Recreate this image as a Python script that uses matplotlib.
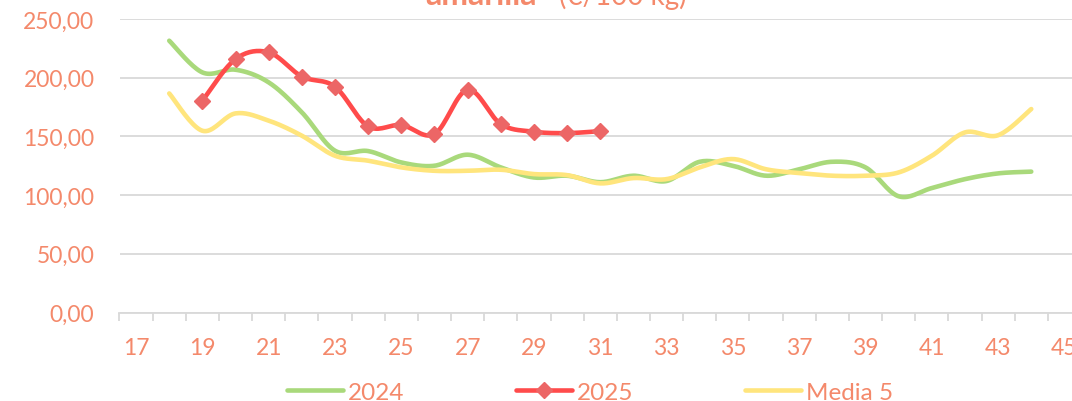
import numpy as np
import matplotlib
matplotlib.use("Agg")
import matplotlib.pyplot as plt

plt.rcParams['font.family'] = ['Lato', 'DejaVu Sans']

TXT = "#F4896B"
GRID = "#D9D9D9"

weeks = list(range(18, 45))
y2024 = [231.5, 204.5, 206.8, 196.0, 170.5, 137.8, 137.5, 127.8, 125.0, 134.4,
         123.6, 115.0, 116.5, 111.0, 116.5, 112.0, 128.4, 125.0, 116.5, 122.0,
         128.4, 123.6, 99.0, 106.0, 113.6, 118.5, 120.0]
weeks25 = list(range(19, 32))
y2025 = [180.4, 215.9, 221.6, 201.0, 192.3, 158.5, 159.7, 152.0, 189.8, 160.5,
         154.0, 152.8, 154.5]
media5 = [186.6, 154.8, 169.6, 163.4, 150.6, 133.5, 129.3, 123.6, 120.7, 120.7,
          121.6, 117.9, 117.0, 110.0, 114.5, 113.6, 123.6, 130.7, 122.0, 118.8,
          116.5, 116.5, 119.3, 133.5, 153.4, 151.0, 173.3]
xticks = list(range(17, 46, 2))


def smooth(x, y, n=20):
    # excel-like smoothed line (catmull-rom through the points)
    x = np.asarray(x, float)
    y = np.asarray(y, float)
    xs, ys = [], []
    for i in range(len(x) - 1):
        x0, y0 = (x[i - 1], y[i - 1]) if i > 0 else (x[i], y[i])
        x3, y3 = (x[i + 2], y[i + 2]) if i + 2 < len(x) else (x[i + 1], y[i + 1])
        x1, y1, x2, y2 = x[i], y[i], x[i + 1], y[i + 1]
        c1 = (x1 + (x2 - x0) / 6, y1 + (y2 - y0) / 6)
        c2 = (x2 - (x3 - x1) / 6, y2 - (y3 - y1) / 6)
        t = np.linspace(0, 1, n)
        bx = (1-t)**3*x1 + 3*(1-t)**2*t*c1[0] + 3*(1-t)*t**2*c2[0] + t**3*x2
        by = (1-t)**3*y1 + 3*(1-t)**2*t*c1[1] + 3*(1-t)*t**2*c2[1] + t**3*y2
        xs.extend(bx)
        ys.extend(by)
    return np.array(xs), np.array(ys)


W, H = 1072, 402
fig = plt.figure(figsize=(W / 100, H / 100), dpi=100)
left, right, top, bottom = 119.5, 1081, 20, 313.5
ax = fig.add_axes([left / W, 1 - bottom / H, (right - left) / W, (bottom - top) / H])

sx, sy = smooth(weeks, y2024)
ax.plot(sx, sy, color="#A9D97B", lw=3.3, solid_capstyle="round", label="2024")
sx, sy = smooth(weeks25, y2025)
ax.plot(sx, sy, color="#FF4B4B", lw=3.3, solid_capstyle="round")
ax.plot(weeks25, y2025, ls="none", marker="D", ms=8.5, color="#EC6666")
sx, sy = smooth(weeks, media5)
ax.plot(sx, sy, color="#FFE57D", lw=3.3, solid_capstyle="round", label="Media 5")

ax.set_xlim(16.5, 45.5)
ax.set_ylim(0, 250)
ax.set_yticks(np.arange(0, 251, 50))
ax.set_yticklabels([f"{v:.2f}".replace(".", ",") for v in np.arange(0, 251, 50)])
ax.grid(axis="y", color=GRID, lw=1.3)
ax.set_axisbelow(True)
for s in ["top", "right", "left"]:
    ax.spines[s].set_visible(False)
ax.spines["bottom"].set_color(GRID)
ax.spines["bottom"].set_linewidth(1.3)
ax.tick_params(axis="y", length=0, pad=18, labelsize=16.5, labelcolor=TXT)
ax.set_xticks(xticks)
ax.set_xticklabels([str(v) for v in xticks])
ax.tick_params(axis="x", length=0, pad=18, labelsize=16.5, labelcolor=TXT)
ax.set_xticks(np.arange(16.5, 46, 1), minor=True)
ax.tick_params(axis="x", which="minor", length=6, width=1.3, color=GRID)

# title, top part falls outside the picture
fig.text(425 / W, 1 - 5 / H, "amarilla", color=TXT, fontsize=23,
         fontweight="bold", va="baseline", ha="left")
fig.text(559 / W, 1 - 5 / H, "(€/100 kg)", color=TXT, fontsize=20,
         va="baseline", ha="left")

h1 = plt.Line2D([], [], color="#A9D97B", lw=3.3, solid_capstyle="round")
h2 = plt.Line2D([], [], color="#FF4B4B", lw=3.3, marker="D", ms=8.5,
                mfc="#EC6666", mec="#EC6666", solid_capstyle="round")
h3 = plt.Line2D([], [], color="#FFE57D", lw=3.3, solid_capstyle="round")
leg = fig.legend([h1, h2, h3], ["2024", "2025", "Media 5"], loc="center",
                 bbox_to_anchor=(590 / W, 1 - 393 / H), ncol=3, frameon=False,
                 fontsize=17.5, handlelength=2.3, handletextpad=0.2,
                 columnspacing=4.6)
for t in leg.get_texts():
    t.set_color(TXT)

fig.savefig("out.png", dpi=100)
